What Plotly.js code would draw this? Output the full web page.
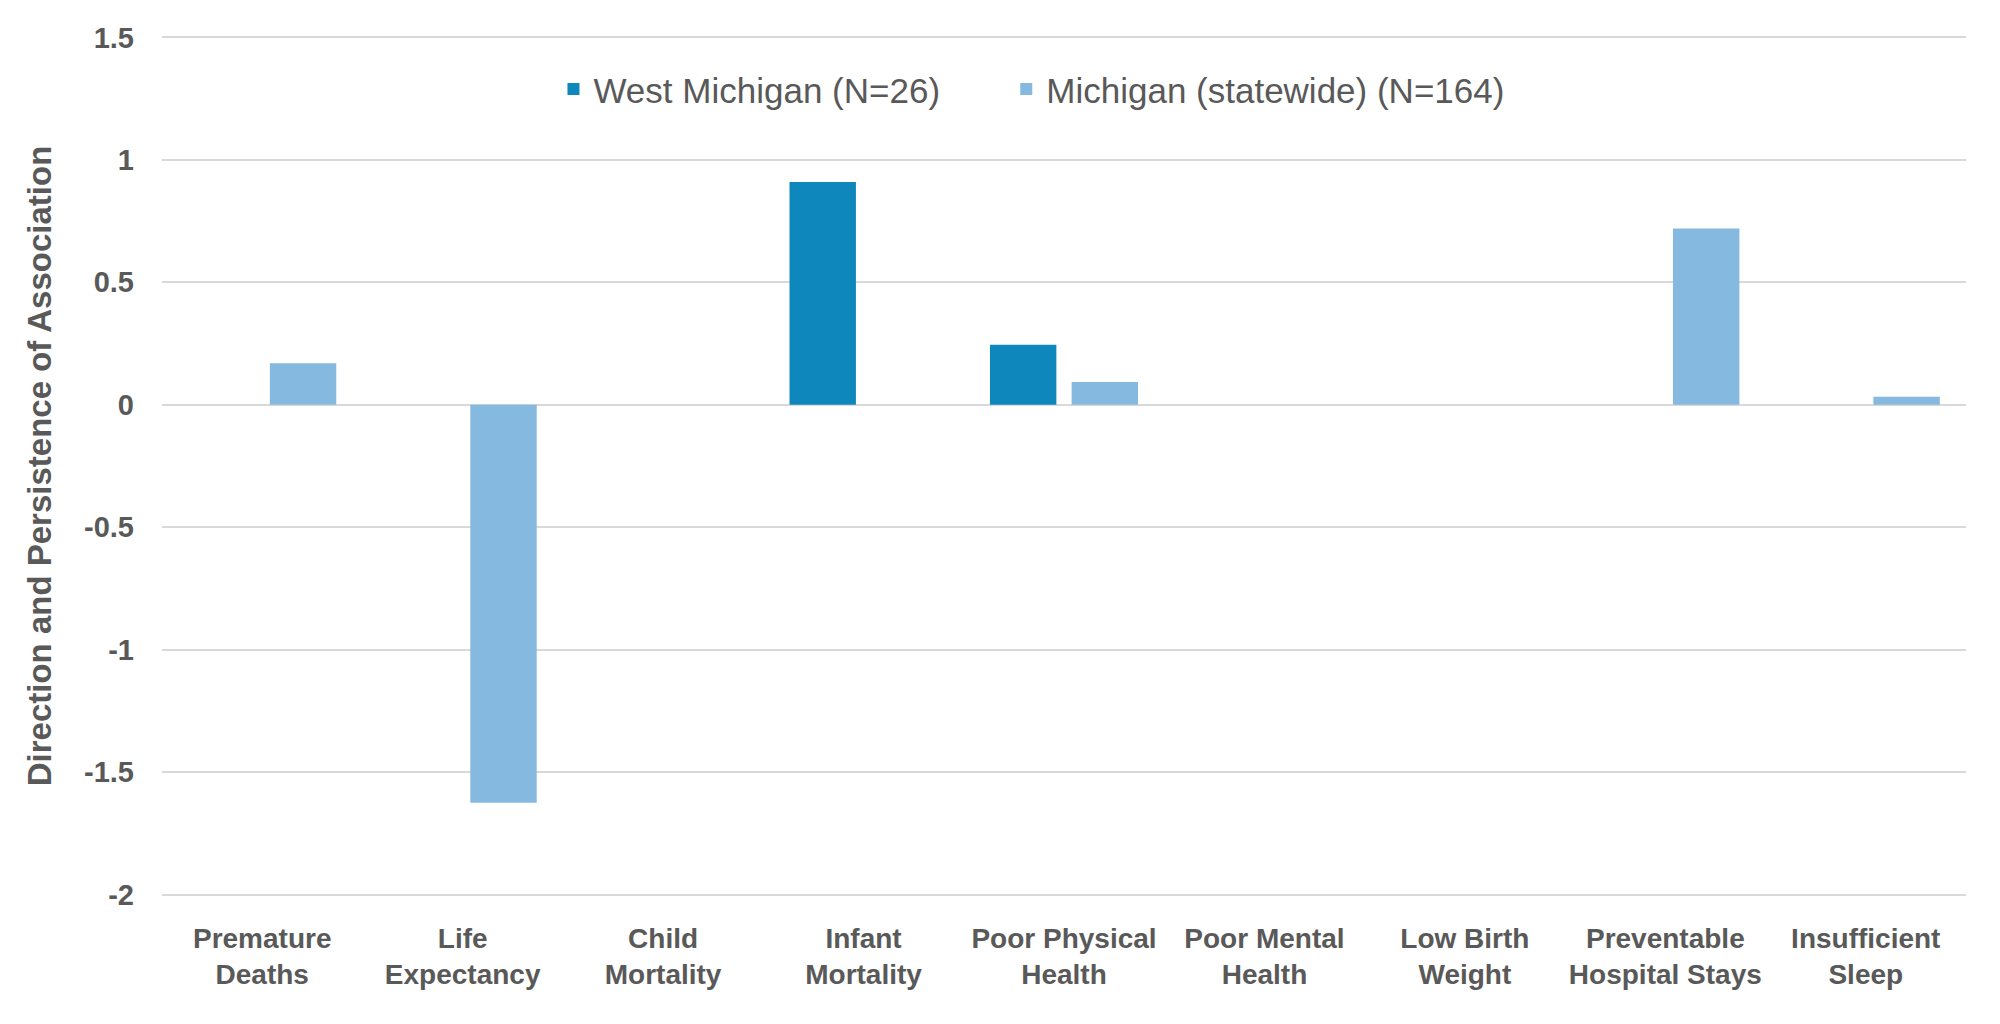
<!DOCTYPE html>
<html>
<head>
<meta charset="utf-8">
<script src="https://cdn.plot.ly/plotly-3.0.1.min.js"></script>
<style>html,body{margin:0;padding:0;background:#fff;}#chart{width:2000px;height:1024px;}</style>
</head>
<body>
<div id="chart"></div>
<script>
const categories = ["Premature<br>Deaths", "Life<br>Expectancy", "Child<br>Mortality", "Infant<br>Mortality", "Poor Physical<br>Health", "Poor Mental<br>Health", "Low Birth<br>Weight", "Preventable<br>Hospital Stays", "Insufficient<br>Sleep"];
const westMichigan = [0, 0, 0, 0.91, 0.245, 0, 0, 0, 0];
const michiganStatewide = [0.17, -1.625, 0, 0, 0.093, 0, 0, 0.72, 0.033];
const seriesNames = ["West Michigan (N=26)", "Michigan (statewide) (N=164)"];
const yTickVals = [-2, -1.5, -1, -0.5, 0, 0.5, 1, 1.5];
const yTickText = ["-2", "-1.5", "-1", "-0.5", "0", "0.5", "1", "1.5"];

const traces = [
  {type: "bar", name: seriesNames[0], x: categories, y: westMichigan, legend: "legend",
   marker: {color: "#0E88BC"}, hoverinfo: "x+y"},
  {type: "bar", name: seriesNames[1], x: categories, y: michiganStatewide, legend: "legend2",
   marker: {color: "#85B9E0"}, hoverinfo: "x+y"}
];

const legendFont = {family: "Liberation Sans, Arial, sans-serif", size: 35, color: "#595959"};

const layout = {
  width: 2000, height: 1024,
  margin: {l: 162, r: 34, t: 35, b: 127},
  paper_bgcolor: "#ffffff", plot_bgcolor: "#ffffff",
  barmode: "group", bargap: 0.185, bargroupgap: 0.187,
  showlegend: true,
  legend: {orientation: "h", x: 0.217, xanchor: "left", y: 0.937, yanchor: "middle",
    font: legendFont, itemwidth: 30, bgcolor: "rgba(0,0,0,0)"},
  legend2: {orientation: "h", x: 0.468, xanchor: "left", y: 0.937, yanchor: "middle",
    font: legendFont, itemwidth: 30, bgcolor: "rgba(0,0,0,0)"},
  xaxis: {type: "category", showgrid: false, zeroline: false, showline: false, ticks: "",
    tickfont: {family: "Liberation Sans, Arial, sans-serif", size: 28, color: "#595959", weight: "bold"},
    ticklabelstandoff: 22, tickangle: 0, fixedrange: true},
  yaxis: {range: [-2.01, 1.51], tickvals: yTickVals, ticktext: yTickText,
    showgrid: true, gridcolor: "#D9D9D9", gridwidth: 2, zeroline: true, zerolinecolor: "#D9D9D9", zerolinewidth: 2,
    showline: false, ticks: "",
    tickfont: {family: "Liberation Sans, Arial, sans-serif", size: 29, color: "#595959", weight: "bold"},
    ticklabelstandoff: 27,
    title: {text: "Direction and Persistence of Association", standoff: 22,
      font: {family: "Liberation Sans, Arial, sans-serif", size: 33, color: "#595959", weight: "bold"}},
    fixedrange: true}
};

Plotly.newPlot("chart", traces, layout, {displayModeBar: false, staticPlot: true});
</script>
</body>
</html>
